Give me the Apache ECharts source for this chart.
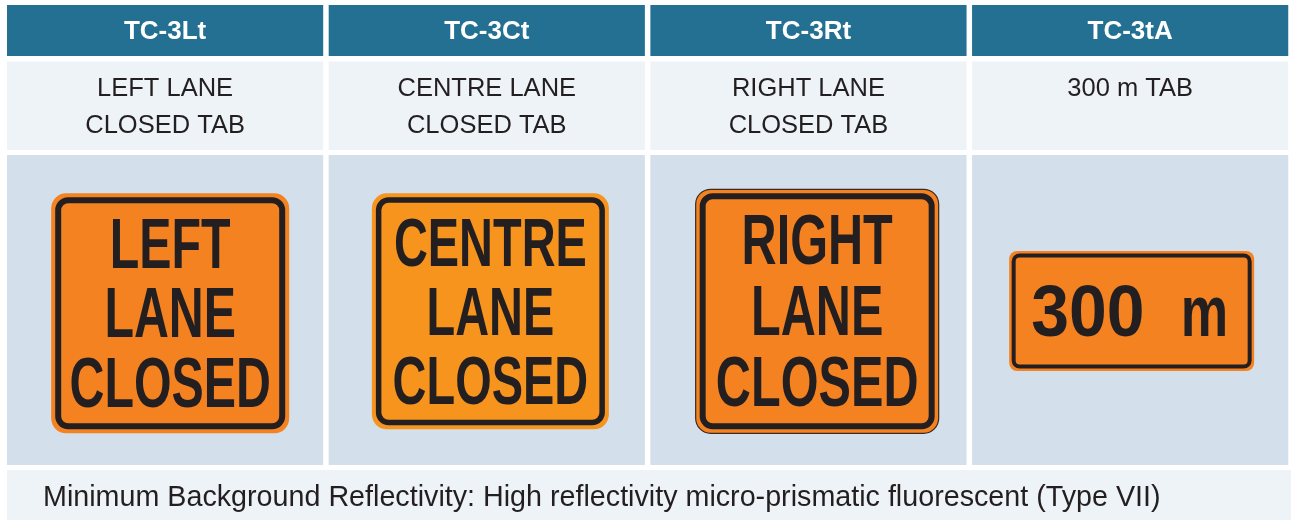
<!DOCTYPE html>
<html>
<head>
<meta charset="utf-8">
<script src="https://cdn.jsdelivr.net/npm/echarts@6/dist/echarts.min.js"></script>
<style>
  html, body { margin: 0; padding: 0; background: #ffffff; }
  #chart { width: 1291px; height: 520px; }
</style>
</head>
<body>
<div id="chart"></div>
<script>
// ---------- data ----------
const codes = ['TC-3Lt', 'TC-3Ct', 'TC-3Rt', 'TC-3tA'];
const descriptions = ['LEFT LANE\nCLOSED TAB', 'CENTRE LANE\nCLOSED TAB', 'RIGHT LANE\nCLOSED TAB', '300 m TAB'];
const signLegends = ['LEFT\nLANE\nCLOSED', 'CENTRE\nLANE\nCLOSED', 'RIGHT\nLANE\nCLOSED', '300 m'];
const footnote = 'Minimum Background Reflectivity: High reflectivity micro-prismatic fluorescent (Type VII)';

// ---------- layout & style ----------
const FONT = "'Liberation Sans', Arial, Helvetica, sans-serif";
const INK = '#231f20';
const HEADER_BG = '#237092';
const DESC_BG = '#eef3f8';
const SIGN_BG = '#d3dfea';
const GAP = 5.5;
const ROWS = {
  header: { y: 5, h: 51 },
  desc: { y: 61.5, h: 88.5 },
  sign: { y: 155, h: 310 },
  foot: { y: 470, h: 50 }
};
const SIGN_STYLES = [
  { dx: 5.1, dy: 3.3, w: 238, h: 240, r: 15, fill: '#f58220', outline: null, inset: 4, bw: 6, br: 10, fontSize: 70, lineHeight: 69.5, scaleX: 0.69, textDy: 4.5 },
  { dx: 3.6, dy: 1.3, w: 237, h: 236, r: 15, fill: '#f7941d', outline: null, inset: 4, bw: 5.5, br: 10, fontSize: 69, lineHeight: 69, scaleX: 0.68, textDy: 4.5 },
  { dx: 8.7, dy: 1.3, w: 243, h: 244, r: 15, fill: '#f58220', outline: '#3b2b22', inset: 4, bw: 6, br: 10, fontSize: 71, lineHeight: 71, scaleX: 0.685, textDy: 4.5 },
  { dx: 1.5, dy: 1, w: 245, h: 120, r: 8, fill: '#f58220', outline: null, inset: 2.5, bw: 4, br: 6, fontSize: 73, lineHeight: 73, justify: { left: 22, right: 26 }, scaleX: [0.93, 0.73], textDy: 5 }
];

function signText(text, x, y, s, scaleX, align) {
  return { type: 'text', x: x, y: y, scaleX: scaleX,
    style: { text: text, fill: INK, fontFamily: FONT, fontWeight: 'bold',
      fontSize: s.fontSize, lineHeight: s.lineHeight, align: align, verticalAlign: 'middle' } };
}

function renderCell(params, api) {
  const i = api.value(0);
  const cx = api.coord([i, 0])[0];
  const band = api.size([1, 0])[0];
  const left = cx - band / 2 + GAP / 2;
  const width = band - GAP;
  const mid = left + width / 2;
  const top = params.coordSys.y;
  const children = [];

  // header cell
  children.push({ type: 'rect', shape: { x: left, y: top + ROWS.header.y, width: width, height: ROWS.header.h }, style: { fill: HEADER_BG } });
  children.push({ type: 'text', x: mid, y: top + ROWS.header.y + ROWS.header.h / 2 + 1,
    style: { text: codes[i], fill: '#ffffff', fontFamily: FONT, fontWeight: 'bold', fontSize: 26, align: 'center', verticalAlign: 'middle' } });

  // description cell
  children.push({ type: 'rect', shape: { x: left, y: top + ROWS.desc.y, width: width, height: ROWS.desc.h }, style: { fill: DESC_BG } });
  children.push({ type: 'text', x: mid, y: top + ROWS.desc.y + 9,
    style: { text: descriptions[i], fill: INK, fontFamily: FONT, fontSize: 25.5, lineHeight: 37, align: 'center', verticalAlign: 'top' } });

  // sign cell
  children.push({ type: 'rect', shape: { x: left, y: top + ROWS.sign.y, width: width, height: ROWS.sign.h }, style: { fill: SIGN_BG } });
  const s = SIGN_STYLES[i];
  const scx = mid + s.dx;
  const scy = top + ROWS.sign.y + ROWS.sign.h / 2 + s.dy;
  const sx = scx - s.w / 2, sy = scy - s.h / 2;
  children.push({ type: 'rect', shape: { x: sx, y: sy, width: s.w, height: s.h, r: s.r },
    style: { fill: s.fill, stroke: s.outline || null, lineWidth: s.outline ? 1.2 : 0 } });
  const bi = s.inset + s.bw / 2;
  children.push({ type: 'rect', shape: { x: sx + bi, y: sy + bi, width: s.w - 2 * bi, height: s.h - 2 * bi, r: s.br },
    style: { fill: null, stroke: INK, lineWidth: s.bw } });

  const ty = scy + s.textDy;
  if (s.justify) {
    const words = signLegends[i].split(' ');
    children.push(signText(words[0], sx + s.justify.left, ty, s, s.scaleX[0], 'left'));
    children.push(signText(words[words.length - 1], sx + s.w - s.justify.right, ty, s, s.scaleX[1], 'right'));
  } else {
    children.push(signText(signLegends[i], scx, ty, s, s.scaleX, 'center'));
  }
  return { type: 'group', children: children };
}

const chart = echarts.init(document.getElementById('chart'), null, { renderer: 'canvas' });
chart.setOption({
  animation: false,
  backgroundColor: '#ffffff',
  grid: { left: 4.25, top: 0, width: 1291.2, height: 520, containLabel: false },
  xAxis: { type: 'category', data: codes, show: false, boundaryGap: true },
  yAxis: { type: 'value', min: 0, max: 1, show: false },
  series: [{
    type: 'custom',
    renderItem: renderCell,
    data: codes.map((c, i) => [i, 0]),
    encode: { x: 0, y: 1 },
    silent: true
  }],
  graphic: [{
    type: 'group',
    children: [
      { type: 'rect', shape: { x: 7, y: ROWS.foot.y, width: 1284, height: ROWS.foot.h }, style: { fill: DESC_BG } },
      { type: 'text', x: 43, y: ROWS.foot.y + 28.5,
        style: { text: footnote, fill: INK, fontFamily: FONT, fontSize: 28.7, align: 'left', verticalAlign: 'middle' } }
    ]
  }]
});
</script>
</body>
</html>
